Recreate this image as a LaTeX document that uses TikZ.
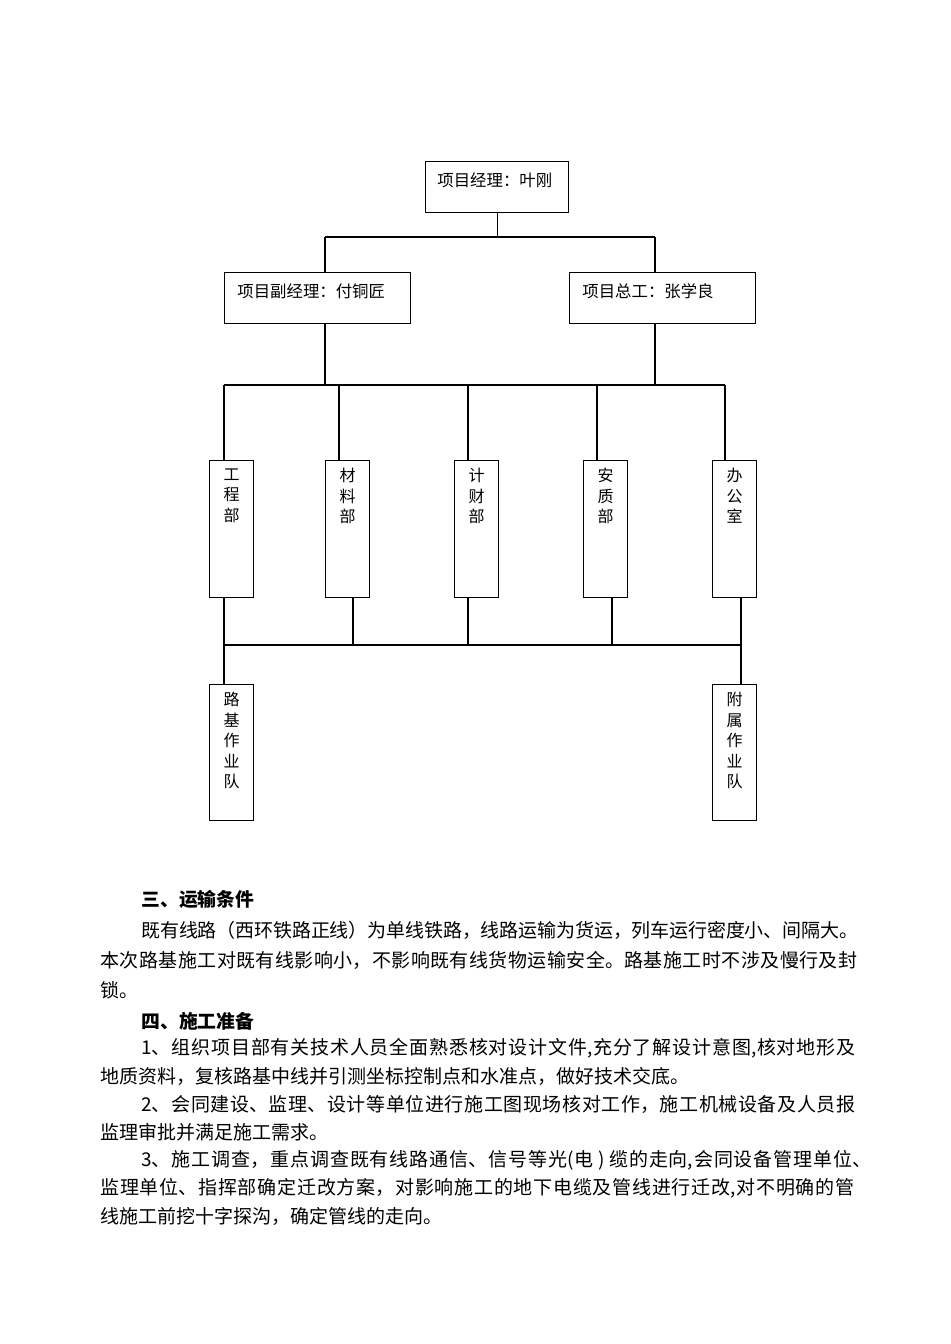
\documentclass[tikz,border=0pt]{standalone}
\usepackage{fontspec}
\newfontfamily\cjk{Noto Sans CJK SC}
\usetikzlibrary{positioning,calc}
\XeTeXlinebreaklocale "zh"
\XeTeXlinebreakskip=0pt plus 2pt minus 0.4pt
\newcommand{\fitline}[2]{\parbox{#1}{\parfillskip=0pt\relax #2}}

\tikzset{
	box/.style={draw, line width=0.7pt, inner sep=0pt, anchor=north west},
	hbox/.style={box, minimum height=25.5pt},
	vbox/.style={box, minimum width=22pt, minimum height=68.5pt},
	htxt/.style={anchor=west, inner sep=0pt, font=\cjk\fontsize{8.2}{10}\selectfont},
	vtxt/.style={inner sep=0pt, align=center, font=\cjk\fontsize{8}{10.25}\selectfont},
	conn/.style={line width=0.65pt},
	para/.style={anchor=west, inner sep=0pt, font=\cjk\fontsize{9.5}{12}\selectfont},
	head/.style={para, font=\cjk\bfseries\fontsize{9.4}{12}\selectfont},
}

\begin{document}
\begin{tikzpicture}[x=0.5pt, y=-0.5pt]
	\useasboundingbox (0,0) rectangle (950,1344);

	%managers
	\node[hbox, minimum width=71.5pt] (pm) at (425,161) {};
	\node[htxt] (pm-txt) at ([xshift=6pt, yshift=-9.5pt]pm.north west) {项目经理：叶刚};

	\node[hbox, minimum width=93pt] (dpm) at (224,272) {};
	\node[htxt] (dpm-txt) at ([xshift=6.5pt, yshift=-9.5pt]dpm.north west) {项目副经理：付铜匠};

	\node[hbox, minimum width=93pt] (ce) at (569,272) {};
	\node[htxt] (ce-txt) at ([xshift=6.5pt, yshift=-9.5pt]ce.north west) {项目总工：张学良};

	\coordinate (top) at (0,237);
	\coordinate (mid) at (0,385);
	\coordinate (low) at (0,645);

	\coordinate (dpm-t) at ($(dpm.north west)+(101,0)$);
	\coordinate (dpm-b) at ($(dpm.south west)+(101,0)$);
	\coordinate (ce-t) at ($(ce.north west)+(86,0)$);
	\coordinate (ce-b) at ($(ce.south west)+(86,0)$);

	\draw[conn] (pm.south) -- (pm.south |- top);
	\draw[conn] (dpm-t |- top) -- (ce-t |- top);
	\draw[conn] (dpm-t) -- (dpm-t |- top);
	\draw[conn] (ce-t) -- (ce-t |- top);
	\draw[conn] (dpm-b) -- (dpm-b |- mid);
	\draw[conn] (ce-b) -- (ce-b |- mid);

	%departments
	\foreach \x/\n/\t/\a/\b in {209/eng/{工\\程\\部}/15/15, 325/mat/{材\\料\\部}/14/28, 454/fin/{计\\财\\部}/14/14, 583/saf/{安\\质\\部}/14/29, 712/off/{办\\公\\室}/13/29}{
		\node[vbox] (\n) at (\x,460) {};
		\node[vtxt, below=4pt of \n.north] (\n-txt) {\t};
		\coordinate (\n-t) at ($(\n.north west)+(\a,0)$);
		\coordinate (\n-b) at ($(\n.south west)+(\b,0)$);
		\draw[conn] (\n-t) -- (\n-t |- mid);
		\draw[conn] (\n-b) -- (\n-b |- low);
	}
	\draw[conn] (eng-t |- mid) -- (off-t |- mid);
	\draw[conn] (eng-b |- low) -- (off-b |- low);

	%teams
	\node[vbox, minimum height=68pt] (road) at (209,684) {};
	\node[vtxt, below=4pt of road.north] (road-txt) {路\\基\\作\\业\\队};
	\node[vbox, minimum height=68pt] (annex) at (712,684) {};
	\node[vtxt, below=4pt of annex.north] (annex-txt) {附\\属\\作\\业\\队};
	\draw[conn] (eng-b |- low) -- ($(road.north west)+(15,0)$);
	\draw[conn] (off-b |- low) -- ($(annex.north west)+(29,0)$);

	%text
	\node[head] (h3) at (141,899) {三、运输条件};
	\node[para] (p31) at (141,930) {\fitline{358.5pt}{既有线路（西环铁路正线）为单线铁路，线路运输为货运，列车运行密度小、间隔大。}};
	\node[para] (p32) at (100,960) {\fitline{378.5pt}{本次路基施工对既有线影响小，不影响既有线货物运输安全。路基施工时不涉及慢行及封}};
	\node[para] (p33) at (100,990) {锁。};

	\node[head] (h4) at (141,1021) {四、施工准备};
	\node[para] (p41) at (141,1048) {\fitline{357pt}{1、组织项目部有关技术人员全面熟悉核对设计文件,充分了解设计意图,核对地形及}};
	\node[para] (p42) at (100,1076) {地质资料，复核路基中线并引测坐标控制点和水准点，做好技术交底。};
	\node[para] (p43) at (141,1104) {\fitline{357pt}{2、会同建设、监理、设计等单位进行施工图现场核对工作，施工机械设备及人员报}};
	\node[para] (p44) at (100,1132) {监理审批并满足施工需求。};
	\node[para] (p45) at (141,1160) {\fitline{365pt}{3、施工调查，重点调查既有线路通信、信号等光(电 ) 缆的走向,会同设备管理单位、}};
	\node[para] (p46) at (100,1188) {\fitline{377pt}{监理单位、指挥部确定迁改方案，对影响施工的地下电缆及管线进行迁改,对不明确的管}};
	\node[para] (p47) at (100,1216) {线施工前挖十字探沟，确定管线的走向。};
\end{tikzpicture}
\end{document}
